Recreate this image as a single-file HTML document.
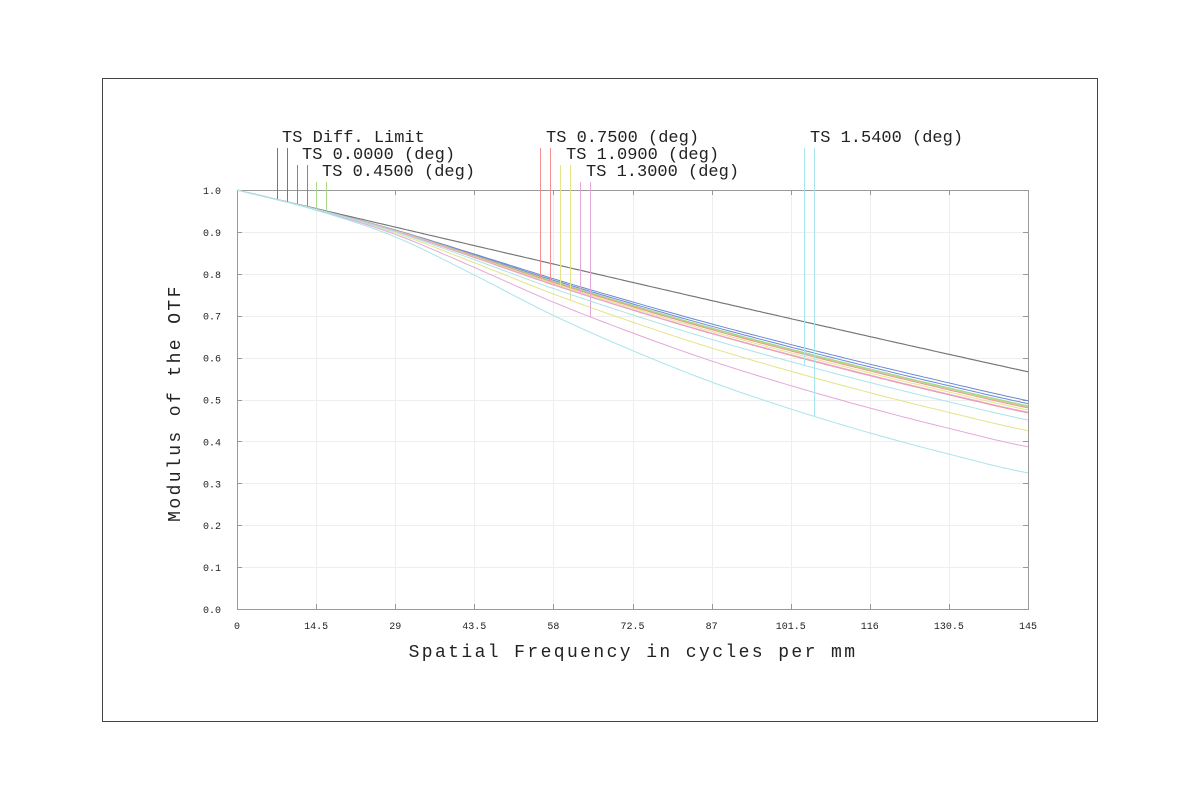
<!DOCTYPE html>
<html><head><meta charset="utf-8"><style>
body{margin:0;background:#fff;width:1200px;height:800px;overflow:hidden}
svg text{font-family:"Liberation Mono",monospace;fill:#222}
</style></head><body>
<svg id="s" width="1200" height="800" xmlns="http://www.w3.org/2000/svg">
<rect x="102.5" y="78.5" width="995" height="643" fill="none" stroke="#444" stroke-width="1"/>
<g id="grid"></g>
<rect x="237.5" y="190.5" width="791" height="419" fill="none" stroke="#999" stroke-width="1"/>
<g id="curves"></g>
<g font-size="17">
<text x="282" y="142">TS Diff. Limit</text>
<text x="302" y="159">TS 0.0000 (deg)</text>
<text x="322" y="176">TS 0.4500 (deg)</text>
<text x="546" y="142">TS 0.7500 (deg)</text>
<text x="566" y="159">TS 1.0900 (deg)</text>
<text x="586" y="176">TS 1.3000 (deg)</text>
<text x="810" y="142">TS 1.5400 (deg)</text>
</g>
<g font-size="10" text-anchor="end" id="ylab"></g>
<g font-size="10" text-anchor="middle" id="xlab"></g>
<text x="633" y="657" font-size="18" letter-spacing="2.4" text-anchor="middle">Spatial Frequency in cycles per mm</text>
<text transform="translate(180,403) rotate(-90)" font-size="18" letter-spacing="2.4" text-anchor="middle">Modulus of the OTF</text>
</svg>
<script>
var NS="http://www.w3.org/2000/svg";
function el(p,t,a,txt){var e=document.createElementNS(NS,t);for(var k in a)e.setAttribute(k,a[k]);if(txt!=null)e.textContent=txt;p.appendChild(e);return e;}
var X0=237,X1=1028,Y0=609,Y1=190;
function px(f){return X0+(X1-X0)*f/145}
function py(v){return Y0-(Y0-Y1)*v}
var g=document.getElementById('grid'),yl=document.getElementById('ylab'),xl=document.getElementById('xlab');
for(var i=1;i<10;i++){var y=Math.round(py(i/10))+0.5;el(g,'line',{x1:X0,x2:X1,y1:y,y2:y,stroke:'#eee'});
 el(g,'line',{x1:X0,x2:X0+5,y1:y,y2:y,stroke:'#999'});el(g,'line',{x1:X1-5,x2:X1,y1:y,y2:y,stroke:'#999'});}
for(var i=0;i<=10;i++){el(yl,'text',{x:221,y:py(i/10)+4},(i/10).toFixed(1));}
for(var i=0;i<=10;i++){var x=Math.round(px(i*14.5))+0.5;if(i>0&&i<10){el(g,'line',{x1:x,x2:x,y1:Y1,y2:Y0,stroke:'#eee'});
 el(g,'line',{x1:x,x2:x,y1:Y1,y2:Y1+5,stroke:'#999'});el(g,'line',{x1:x,x2:x,y1:Y0-5,y2:Y0,stroke:'#999'});}
 el(xl,'text',{x:px(i*14.5),y:629},String(i*14.5));}
var fc=416.7;
function D(f){var x=f/fc;return 2/Math.PI*(Math.acos(x)-x*Math.sqrt(1-x*x));}
var P=[0,0.01,0.06,0.19,0.35,0.49,0.62,0.73,0.83,0.92,1];
function S(t){var u=t*10,i=Math.min(9,Math.floor(u)),a=u-i;
 var p0=P[Math.max(0,i-1)],p1=P[i],p2=P[i+1],p3=P[Math.min(10,i+2)];
 return 0.5*((2*p1)+(-p0+p2)*a+(2*p0-5*p1+4*p2-p3)*a*a+(-p0+3*p1-3*p2+p3)*a*a*a);}
var series=[
 ['#777',1,1,277,148],
 ['#6a88d8',0.878,0.866,297,165],
 ['#a8d888',0.857,0.853,316,182],
 ['#f49090',0.848,0.827,540,148],
 ['#e4e488',0.839,0.752,560,165],
 ['#e4a8d8',0.830,0.684,580,182],
 ['#a8e4ec',0.797,0.574,804,148]];
var c=document.getElementById('curves');
function val(f,r){return D(f)*(1-(1-r)*S(f/145));}
series.forEach(function(s){
 [s[1],s[2]].forEach(function(r,j){
  var d='';for(var f=0;f<=145;f+=1){d+=(f?'L':'M')+px(f).toFixed(1)+','+py(val(f,r)).toFixed(1);}
  el(c,'path',{d:d,fill:'none',stroke:s[0],'stroke-width':1});
  var lx=s[3]+10*j+0.5,f=(lx-X0)*145/(X1-X0);
  el(c,'line',{x1:lx,x2:lx,y1:s[4],y2:py(val(f,r)),stroke:s[0],'stroke-width':1});
 });
});
</script>
</body></html>
